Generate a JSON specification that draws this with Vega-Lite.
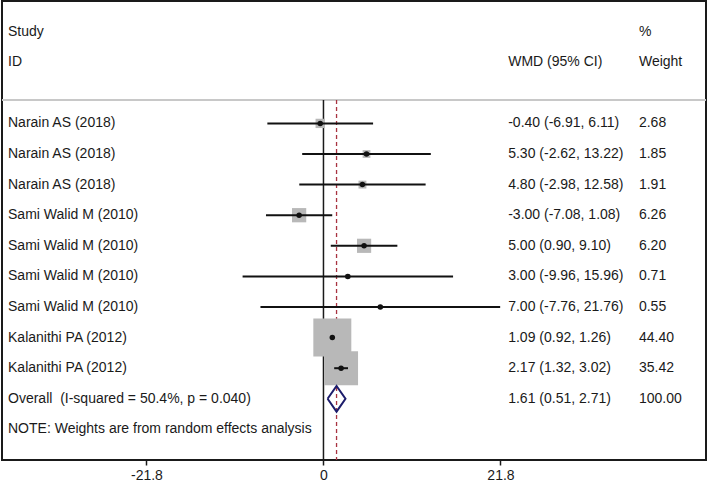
{
  "$schema": "https://vega.github.io/schema/vega-lite/v6.json",
  "autosize": {"type": "none"},
  "width": 704,
  "height": 459,
  "padding": {"left": 2, "top": 1, "right": 3, "bottom": 27},
  "background": "white",
  "config": {
    "view": {"stroke": "#1a1a1a", "strokeWidth": 2},
    "text": {"font": "Liberation Sans", "fontSize": 14, "color": "#1a1a1a"},
    "axis": {"labelFont": "Liberation Sans"}
  },
  "datasets": {
    "studies": [
      {"row": 1, "es": -0.40, "lo": -6.91, "hi": 6.11, "w": 2.68},
      {"row": 2, "es": 5.30, "lo": -2.62, "hi": 13.22, "w": 1.85},
      {"row": 3, "es": 4.80, "lo": -2.98, "hi": 12.58, "w": 1.91},
      {"row": 4, "es": -3.00, "lo": -7.08, "hi": 1.08, "w": 6.26},
      {"row": 5, "es": 5.00, "lo": 0.90, "hi": 9.10, "w": 6.20},
      {"row": 6, "es": 3.00, "lo": -9.96, "hi": 15.96, "w": 0.71},
      {"row": 7, "es": 7.00, "lo": -7.76, "hi": 21.76, "w": 0.55},
      {"row": 8, "es": 1.09, "lo": 0.92, "hi": 1.26, "w": 44.40},
      {"row": 9, "es": 2.17, "lo": 1.32, "hi": 3.02, "w": 35.42}
    ],
    "diamond": [
      {"order": 0, "x": 0.51, "y": 10},
      {"order": 1, "x": 1.61, "y": 9.58},
      {"order": 2, "x": 2.71, "y": 10},
      {"order": 3, "x": 1.61, "y": 10.42},
      {"order": 4, "x": 0.51, "y": 10}
    ],
    "table": [
      {"row": -2, "study": "Study", "ci": "", "wt": "%"},
      {"row": -1, "study": "ID", "ci": "WMD (95% CI)", "wt": "Weight"},
      {"row": 1, "study": "Narain AS (2018)", "ci": "-0.40 (-6.91, 6.11)", "wt": "2.68"},
      {"row": 2, "study": "Narain AS (2018)", "ci": "5.30 (-2.62, 13.22)", "wt": "1.85"},
      {"row": 3, "study": "Narain AS (2018)", "ci": "4.80 (-2.98, 12.58)", "wt": "1.91"},
      {"row": 4, "study": "Sami Walid M (2010)", "ci": "-3.00 (-7.08, 1.08)", "wt": "6.26"},
      {"row": 5, "study": "Sami Walid M (2010)", "ci": "5.00 (0.90, 9.10)", "wt": "6.20"},
      {"row": 6, "study": "Sami Walid M (2010)", "ci": "3.00 (-9.96, 15.96)", "wt": "0.71"},
      {"row": 7, "study": "Sami Walid M (2010)", "ci": "7.00 (-7.76, 21.76)", "wt": "0.55"},
      {"row": 8, "study": "Kalanithi PA (2012)", "ci": "1.09 (0.92, 1.26)", "wt": "44.40"},
      {"row": 9, "study": "Kalanithi PA (2012)", "ci": "2.17 (1.32, 3.02)", "wt": "35.42"},
      {"row": 10, "study": "Overall\u00a0 (I-squared = 50.4%, p = 0.040)", "ci": "1.61 (0.51, 2.71)", "wt": "100.00"},
      {"row": 11, "study": "NOTE: Weights are from random effects analysis", "ci": "", "wt": ""}
    ]
  },
  "encoding": {
    "x": {
      "type": "quantitative",
      "scale": {"domain": [-39.59, 47.11], "nice": false, "zero": false},
      "axis": {
        "values": [-21.8, 0, 21.8],
        "labelExpr": "toString(datum.value)",
        "title": null,
        "grid": false,
        "domain": false,
        "tickColor": "#1a1a1a",
        "tickWidth": 1.5,
        "tickSize": 5,
        "labelPadding": 3,
        "labelFontSize": 14,
        "labelColor": "#1a1a1a"
      }
    },
    "y": {
      "type": "quantitative",
      "scale": {"domain": [-3, 12], "reverse": true, "nice": false, "zero": false},
      "axis": null
    }
  },
  "layer": [
    {
      "data": {"values": [{}]},
      "mark": {"type": "rule", "color": "#c8c8c8", "strokeWidth": 2},
      "encoding": {"y": {"datum": 0.235}}
    },
    {
      "data": {"values": [{}]},
      "mark": {"type": "rule", "color": "#1a1a1a", "strokeWidth": 1.5},
      "encoding": {"x": {"datum": 0}, "y": {"datum": 0.235}, "y2": {"datum": 12}}
    },
    {
      "data": {"values": [{}]},
      "mark": {"type": "rule", "color": "#a83340", "strokeWidth": 1.3, "strokeDash": [4, 3]},
      "encoding": {"x": {"datum": 1.61}, "y": {"datum": 0.235}, "y2": {"datum": 12}}
    },
    {
      "data": {"name": "studies"},
      "mark": {"type": "square", "filled": true, "color": "#b8b8b8", "opacity": 1},
      "encoding": {
        "x": {"field": "es"},
        "y": {"field": "row"},
        "size": {"field": "w", "type": "quantitative", "scale": {"type": "linear", "domain": [0, 100], "range": [0, 3249]}, "legend": null}
      }
    },
    {
      "data": {"name": "studies"},
      "mark": {"type": "rule", "color": "#111111", "strokeWidth": 2},
      "encoding": {"x": {"field": "lo"}, "x2": {"field": "hi"}, "y": {"field": "row"}}
    },
    {
      "data": {"name": "studies"},
      "mark": {"type": "circle", "color": "#111111", "size": 30, "opacity": 1},
      "encoding": {"x": {"field": "es"}, "y": {"field": "row"}}
    },
    {
      "data": {"name": "diamond"},
      "mark": {"type": "line", "color": "#1c1c6b", "strokeWidth": 2, "strokeJoin": "miter"},
      "encoding": {"x": {"field": "x"}, "y": {"field": "y"}, "order": {"field": "order", "type": "quantitative"}}
    },
    {
      "data": {"name": "table"},
      "mark": {"type": "text", "align": "left", "baseline": "middle"},
      "encoding": {"x": {"datum": -38.85}, "y": {"field": "row"}, "text": {"field": "study"}}
    },
    {
      "data": {"name": "table"},
      "mark": {"type": "text", "align": "left", "baseline": "middle"},
      "encoding": {"x": {"datum": 22.75}, "y": {"field": "row"}, "text": {"field": "ci"}}
    },
    {
      "data": {"name": "table"},
      "mark": {"type": "text", "align": "left", "baseline": "middle"},
      "encoding": {"x": {"datum": 38.85}, "y": {"field": "row"}, "text": {"field": "wt"}}
    }
  ]
}
